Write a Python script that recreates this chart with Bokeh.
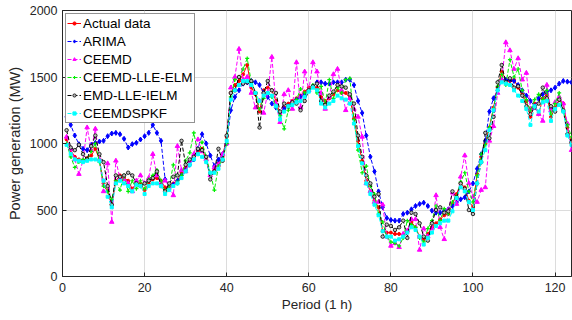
from bokeh.plotting import figure
from bokeh.models import Range1d, FixedTicker, Legend, LegendItem
from bokeh.embed import file_html
from bokeh.resources import INLINE

period = list(range(1, 125))

actual = [1030, 950, 900, 880, 870, 890, 910, 960, 880, 700,
          640, 540, 720, 760, 740, 720, 660, 700, 700, 650,
          700, 730, 740, 720, 670, 660, 700, 720, 780, 820,
          860, 900, 940, 960, 880, 770, 800, 850, 900, 1050,
          1380, 1440, 1470, 1520, 1590, 1420, 1370, 1240, 1400, 1420,
          1400, 1320, 1220, 1270, 1300, 1320, 1340, 1360, 1390, 1420,
          1430, 1420, 1350, 1320, 1340, 1370, 1400, 1380, 1380, 1340,
          1190, 1020, 870, 720, 640, 570, 520, 340, 330, 330,
          320, 320, 310, 345, 410, 370, 300, 280, 320, 370,
          400, 430, 460, 470, 545, 620, 700, 670, 570, 520,
          770, 900, 1000, 1120, 1270, 1420, 1540, 1480, 1470, 1480,
          1420, 1370, 1320, 1200, 1300, 1220, 1340, 1370, 1200, 1270,
          1330, 1300, 1120, 1000]

arima = [1200, 1140, 1060, 995, 960, 950, 990, 1005, 1015, 1020,
         1055, 1075, 1080, 1070, 1035, 970, 995, 1005, 1030, 1055,
         1080, 1140, 1080, 1020, 730, 680, 690, 720, 760, 800,
         840, 880, 960, 1070, 1000, 910, 830, 880, 920, 1000,
         1250, 1350, 1400, 1450, 1460, 1470, 1460, 1440, 1380, 1350,
         1300, 1270, 1230, 1260, 1280, 1300, 1330, 1350, 1370, 1400,
         1430, 1460, 1460, 1450, 1450, 1460, 1460, 1460, 1480, 1480,
         1440, 1320, 1230, 1060, 900, 790, 640, 520, 440, 425,
         420, 420, 470, 480, 505, 530, 545, 555, 530, 495,
         480, 480, 495, 505, 530, 555, 580, 595, 640, 700,
         810, 920, 1020, 1240, 1340, 1400, 1480, 1480, 1480, 1470,
         1440, 1400, 1360, 1320, 1280, 1340, 1370, 1390, 1400, 1420,
         1450, 1470, 1465, 1460]

ceemd = [1050, 960, 880, 770, 870, 1120, 950, 1110, 880, 640,
         850, 410, 870, 740, 730, 700, 640, 720, 760, 700,
         740, 920, 760, 700, 720, 680, 610, 980, 800, 790,
         870, 920, 1030, 940, 880, 760, 820, 840, 920, 1000,
         1420, 1500, 1710, 1480, 1500, 1380, 1270, 1320, 1230, 1380,
         1650, 1300, 1160, 1370, 1400, 1260, 1610, 1270, 1540, 1400,
         1610, 1540, 1380, 1260, 1350, 1520, 1560, 1400, 1250, 1340,
         1260, 1200, 1050, 700, 640, 560, 560, 540, 300, 230,
         250, 220, 320, 345, 430, 430, 200, 360, 300, 360,
         610, 370, 280, 500, 630, 545, 750, 910, 700, 600,
         560, 650, 670, 1020, 1130, 1380, 1480, 1760, 1700, 1560,
         1640, 1480, 1530, 1260, 1270, 1220, 1170, 1440, 1250, 1310,
         1350, 1300, 1150, 950]

ceemd_lle_elm = [1000, 900, 820, 860, 880, 880, 940, 1000, 860, 680,
                 640, 580, 720, 650, 760, 640, 720, 660, 720, 660,
                 730, 760, 800, 720, 640, 680, 840, 700, 760, 870,
                 930, 1080, 920, 1010, 900, 780, 650, 830, 880, 1000,
                 1350, 1480, 1500, 1560, 1640, 1460, 1380, 1260, 1340, 1380,
                 1350, 1280, 1210, 1110, 1250, 1300, 1330, 1410, 1380, 1400,
                 1440, 1380, 1430, 1300, 1480, 1340, 1420, 1380, 1480, 1490,
                 1180, 950, 780, 830, 680, 620, 470, 410, 300, 260,
                 250, 230, 290, 420, 390, 370, 290, 260, 360, 420,
                 530, 420, 510, 470, 560, 600, 710, 780, 640, 560,
                 760, 920, 990, 1120, 1260, 1430, 1520, 1440, 1630, 1500,
                 1560, 1400, 1330, 1250, 1330, 1370, 1330, 1400, 1220, 1300,
                 1380, 1240, 1140, 1050]

emd_lle_ielm = [1100, 970, 950, 990, 920, 880, 980, 1060, 920, 860,
                680, 540, 760, 750, 760, 780, 760, 700, 680, 700,
                720, 740, 790, 680, 640, 700, 750, 760, 1020, 840,
                880, 900, 960, 950, 900, 730, 790, 960, 870, 1060,
                1380, 1400, 1500, 1450, 1460, 1470, 1380, 1120, 1380, 1470,
                1400, 1380, 1240, 1300, 1280, 1310, 1300, 1250, 1320, 1400,
                1430, 1450, 1320, 1290, 1360, 1390, 1440, 1430, 1420, 1370,
                1300, 1060, 900, 760, 700, 600, 620, 300, 390, 380,
                350, 370, 420, 290, 480, 470, 400, 300, 270, 400,
                500, 520, 480, 490, 640, 590, 700, 660, 500, 470,
                700, 860, 1080, 1040, 1200, 1460, 1590, 1460, 1490, 1420,
                1430, 1360, 1280, 1220, 1270, 1300, 1420, 1340, 1280, 1240,
                1330, 1250, 1070, 1010]

ceemdspkf = [990, 920, 880, 870, 860, 870, 880, 880, 870, 720,
             600, 520, 700, 720, 700, 680, 640, 690, 680, 620,
             680, 700, 700, 680, 620, 650, 680, 700, 740, 790,
             840, 880, 920, 900, 860, 780, 780, 810, 880, 1020,
             1330, 1400, 1440, 1470, 1470, 1440, 1380, 1320, 1360, 1380,
             1360, 1280, 1180, 1240, 1280, 1290, 1310, 1320, 1350, 1390,
             1420, 1400, 1300, 1270, 1300, 1320, 1360, 1340, 1330, 1300,
             1150, 980, 850, 700, 620, 540, 460, 340, 300, 300,
             270, 280, 300, 330, 370, 350, 300, 240, 290, 330,
             380, 400, 420, 420, 490, 590, 670, 640, 560, 500,
             700, 860, 950, 1100, 1250, 1400, 1460, 1450, 1440, 1400,
             1360, 1320, 1260, 1140, 1280, 1240, 1310, 1320, 1170, 1260,
             1290, 1240, 1060, 990]

x_ticks = [0, 20, 40, 60, 80, 100, 120]
y_ticks = [0, 500, 1000, 1500, 2000]

AX = "#262626"
FONT = "Liberation Sans"

p = figure(width=572, height=320, output_backend="svg", toolbar_location=None,
           x_range=Range1d(0, 124), y_range=Range1d(0, 2000),
           min_border_left=62, min_border_right=1, min_border_top=10, min_border_bottom=44)
p.frame_width = 509
p.frame_height = 266
p.background_fill_color = "white"
p.border_fill_color = "white"
p.outline_line_color = AX
p.outline_line_width = 1

for ax in (p.xaxis[0], p.yaxis[0]):
    ax.axis_line_color = AX
    ax.major_tick_line_color = AX
    ax.major_tick_in = 4
    ax.major_tick_out = 0
    ax.minor_tick_line_color = None
    ax.major_label_text_font = FONT
    ax.major_label_text_font_size = "12.5px"
    ax.major_label_text_color = AX
    ax.axis_label_text_font = FONT
    ax.axis_label_text_font_style = "normal"
    ax.axis_label_text_color = AX

p.xaxis.axis_label_text_font_size = "13.5px"
p.yaxis.axis_label_text_font_size = "14.5px"
p.xaxis.ticker = FixedTicker(ticks=x_ticks)
p.yaxis.ticker = FixedTicker(ticks=y_ticks)
p.xaxis.axis_label = "Period (1 h)"
p.yaxis.axis_label = "Power generation (MW)"
p.xaxis.major_label_standoff = 6
p.yaxis.major_label_standoff = 5
p.xaxis.axis_label_standoff = 2
p.yaxis.axis_label_standoff = 4

p.xgrid.ticker = FixedTicker(ticks=x_ticks)
p.ygrid.ticker = FixedTicker(ticks=y_ticks)
p.grid.grid_line_color = "#dcdcdc"
p.grid.grid_line_width = 1

items = []

r1 = p.line(period, actual, color="red", line_width=1)
m1 = p.scatter(period, actual, marker="circle", size=3, color="red")
items.append(LegendItem(label="Actual data", renderers=[r1, m1]))

r2 = p.line(period, arima, color="blue", line_width=1, line_dash="4 2")
m2 = p.scatter(period, arima, marker="diamond", size=5, color="blue")
items.append(LegendItem(label="ARIMA", renderers=[r2, m2]))

r3 = p.line(period, ceemd, color="magenta", line_width=1, line_dash="4 2")
m3 = p.scatter(period, ceemd, marker="triangle", size=4.5, color="magenta")
items.append(LegendItem(label="CEEMD", renderers=[r3, m3]))

r4 = p.line(period, ceemd_lle_elm, color="#00ee00", line_width=1, line_dash="4 2")
m4 = p.scatter(period, ceemd_lle_elm, marker="cross", size=4, color="#00ee00", line_width=1.2)
items.append(LegendItem(label="CEEMD-LLE-ELM", renderers=[r4, m4]))

r5 = p.line(period, emd_lle_ielm, color="black", line_width=1, line_dash="4 2")
m5 = p.scatter(period, emd_lle_ielm, marker="circle", size=3.5, line_color="black",
               fill_color="#bbbbbb", line_width=0.8)
items.append(LegendItem(label="EMD-LLE-IELM", renderers=[r5, m5]))

r6 = p.line(period, ceemdspkf, color="cyan", line_width=1, line_dash="4 2")
m6 = p.scatter(period, ceemdspkf, marker="square", size=3, color="cyan")
items.append(LegendItem(label="CEEMDSPKF", renderers=[r6, m6]))

legend = Legend(items=items, location="top_left")
legend.margin = 3
legend.padding = 1
legend.spacing = 2
legend.label_height = 16
legend.glyph_height = 8
legend.glyph_width = 14
legend.label_standoff = 2
legend.label_text_font = FONT
legend.label_text_font_size = "13.5px"
legend.label_text_color = "black"
legend.border_line_color = AX
legend.border_line_width = 1
legend.background_fill_color = "white"
legend.background_fill_alpha = 1
p.add_layout(legend)

open("out.html", "w").write(file_html(p, INLINE))
